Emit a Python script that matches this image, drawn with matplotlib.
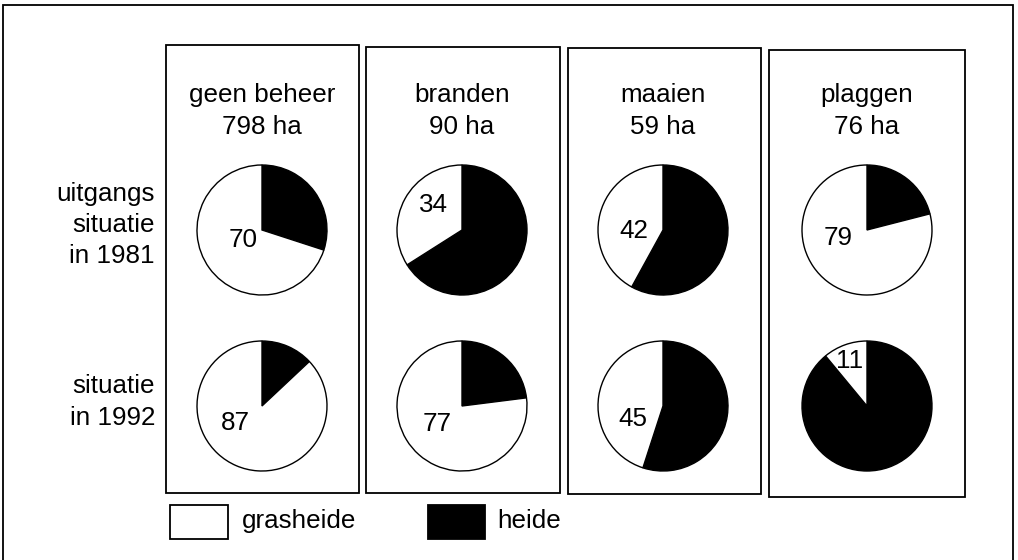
import matplotlib
matplotlib.use("Agg")
import matplotlib.pyplot as plt
from matplotlib.patches import Rectangle

plt.rcParams['font.family'] = ['Liberation Sans', 'DejaVu Sans']

# ---- data ----
treatments = ["geen beheer", "branden", "maaien", "plaggen"]
areas_ha = [798, 90, 59, 76]
row_labels = ["uitgangs\nsituatie\nin 1981", "situatie\nin 1992"]
grasheide_1981 = [70, 34, 42, 79]
grasheide_1992 = [87, 77, 45, 11]
legend_labels = ["grasheide", "heide"]

# ---- layout (pixel coordinates, y measured from top) ----
W, H = 1018, 560
panel_x = [(166, 359), (366, 560), (568, 761), (769, 965)]
panel_top = [45, 47, 48, 50]
panel_bot = [493, 493, 494, 497]
pie_cx = [262, 462, 663, 867]
pie_cy = [230, 406]
radius = 65
FS = 18.7
# label offsets (dx, dy) in pixels from pie centre, per panel per row
label_off = [[(-19, 10), (-27, 17)],
             [(-29, -25), (-25, 18)],
             [(-29, 1), (-30, 13)],
             [(-29, 8), (-17, -45)]]

fig = plt.figure(figsize=(W / 100, H / 100), dpi=100)
ax = fig.add_axes([0, 0, 1, 1])

def Y(y):
    return H - y

lw = 1.3
# outer frame (bottom edge lies just outside the picture, as in the source)
ax.add_patch(Rectangle((3, Y(570)), 1010, 565, fill=False, ec='black', lw=lw, clip_on=True))

for i, name in enumerate(treatments):
    x0, x1 = panel_x[i]
    ax.add_patch(Rectangle((x0, Y(panel_bot[i])), x1 - x0, panel_bot[i] - panel_top[i],
                           fill=False, ec='black', lw=lw))
    ax.text(pie_cx[i], Y(111), f"{name}\n{areas_ha[i]} ha", ha='center', va='center',
            fontsize=FS, linespacing=1.47)
    for r, vals in enumerate([grasheide_1981, grasheide_1992]):
        g = vals[i]
        ax.pie([100 - g, g], colors=['black', 'white'], startangle=90, counterclock=False,
               center=(pie_cx[i], Y(pie_cy[r])), radius=radius,
               wedgeprops=dict(edgecolor='black', linewidth=1.0))
        dx, dy = label_off[i][r]
        ax.text(pie_cx[i] + dx, Y(pie_cy[r] + dy), str(g), ha='center', va='center',
                fontsize=FS)

# row labels
ax.text(155, Y(225), row_labels[0], ha='right', va='center', fontsize=FS, linespacing=1.38)
ax.text(155, Y(402), row_labels[1], ha='right', va='center', fontsize=FS, linespacing=1.38)

# legend
ax.add_patch(Rectangle((170, Y(539)), 58, 34, fc='white', ec='black', lw=lw))
ax.text(242, Y(521), legend_labels[0], ha='left', va='center', fontsize=FS)
ax.add_patch(Rectangle((428, Y(539)), 57, 34, fc='black', ec='black', lw=lw))
ax.text(497, Y(521), legend_labels[1], ha='left', va='center', fontsize=FS)

ax.set_xlim(0, W)
ax.set_ylim(0, H)
ax.set_aspect('auto')
ax.axis('off')

fig.savefig("out.png", dpi=100, facecolor='white')
